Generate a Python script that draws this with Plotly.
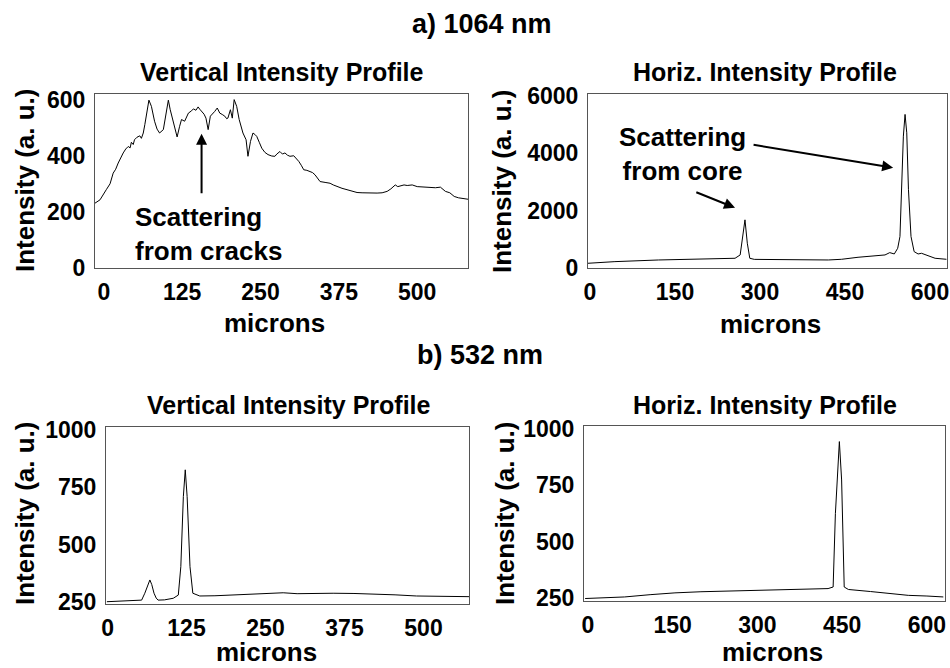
import plotly.graph_objects as go

# ---------------- data ----------------
# a) 1064 nm, vertical intensity profile
v1064_x = [-14, -6, 4, 10, 15, 19, 23, 27, 31, 35, 39, 42, 44, 47, 49, 53, 57.5, 60, 63, 65.5, 68, 72, 76, 81,
           85, 89, 95, 99, 103, 106, 111, 117, 121, 124, 129, 135, 140, 143, 147, 150.5, 153, 156, 160, 163,
           166.5, 170, 174, 177, 181, 185, 189, 193, 196, 198, 202, 205, 208, 212, 216, 219, 222, 227, 230,
           234, 238, 241, 244, 248, 252, 257, 262, 268, 273, 276, 281, 285, 289, 293, 297, 303, 307, 311,
           315, 319, 324, 329, 333, 337, 341, 345, 353, 361, 366, 372, 380, 388, 396, 404, 412, 420, 428,
           436, 444, 452, 458, 465, 469, 473, 479, 484, 492, 500, 510, 521, 529, 537, 541, 545, 552, 559,
           566, 574, 581]
v1064_y = [231, 243, 279, 300, 338, 352, 374, 395, 410, 424, 433, 428, 448, 440, 457, 466, 471, 462, 481, 511,
           552, 598, 576, 523, 495, 481, 493, 552, 598, 564, 516, 467, 505, 529, 523, 552, 560, 567, 562,
           574, 566, 558, 548, 534, 493, 541, 550, 558, 570, 552, 547, 541, 532, 534, 564, 534, 600, 576,
           529, 500, 481, 457, 398, 451, 481, 476, 469, 448, 427, 412, 404, 399, 398, 406, 415, 406, 410,
           402, 398, 400, 391, 380, 366, 350, 348, 344, 340, 332, 320, 308, 305, 302, 296, 290, 284, 279,
           275, 269, 268, 267, 266, 267, 268, 273, 282, 296, 290, 293, 296, 294, 296, 290, 288, 285, 286,
           288, 280, 273, 268, 255, 250, 247, 245]

# a) 1064 nm, horizontal intensity profile
h1064_x = [-3.5, 44, 121, 209, 256, 265, 269, 273.5, 277.6, 282, 290, 356, 420.6, 444, 473, 520.6, 529,
           537, 543, 547, 550, 553, 556, 559, 562, 566.5, 572, 579, 585, 594, 609, 629]
h1064_y = [164, 221, 279, 303, 338, 454, 1094, 1675, 862, 338, 300, 279, 279, 303, 373, 454, 535, 488, 686,
           1094, 2723, 4584, 5340, 4700, 2723, 1094, 570, 488, 512, 454, 338, 303]

# b) 532 nm, vertical intensity profile
v532_x = [-1, 15, 30, 45, 54, 59, 63, 67, 70, 73.6, 77, 80, 90, 104, 112, 116, 120, 123, 126, 130.5, 135,
          146, 170, 199, 230, 255, 278, 300, 330, 357, 390, 420.6, 455, 489, 530, 572]
v532_y = [250, 252, 254, 255, 257, 287, 320, 345, 325, 287, 266, 257, 258, 265, 279, 403, 709, 826, 709,
          403, 287, 275, 276, 279, 283, 286, 289, 285, 287, 287, 286, 284, 280, 275, 274, 272]

# b) 532 nm, horizontal intensity profile
h532_x = [-5, 30, 65, 110, 154, 200, 242, 290, 331, 380, 425, 434, 438, 445, 449, 453.6, 461, 500, 537.5,
          567, 600, 629]
h532_y = [249, 252, 256, 266, 274, 279, 282, 284, 286, 289, 293, 300, 626, 944, 774, 300, 289, 280, 271,
          263, 260, 256]

# axis ticks
v1064_xticks = [0, 125, 250, 375, 500]
v1064_yticks = [0, 200, 400, 600]
h1064_xticks = [0, 150, 300, 450, 600]
h1064_yticks = [0, 2000, 4000, 6000]
v532_xticks = [0, 125, 250, 375, 500]
v532_yticks = [250, 500, 750, 1000]
h532_xticks = [0, 150, 300, 450, 600]
h532_yticks = [250, 500, 750, 1000]

main_titles = ["a) 1064 nm", "b) 532 nm"]
panel_titles = ["Vertical Intensity Profile", "Horiz. Intensity Profile",
                "Vertical Intensity Profile", "Horiz. Intensity Profile"]
x_title = "microns"
y_title = "Intensity (a. u.)"

# ---------------- layout helpers ----------------
W, H = 950, 668
FONT = "Liberation Sans, Arial, sans-serif"


def px_x(p):
    return p / W


def px_y(p):
    return 1 - p / H


panels = [
    # (xaxis, yaxis, x px domain, y px domain, xrange, yrange, xticks, yticks, xs, ys)
    ("x", "y", (95, 468), (94, 268), [-14, 581], [0, 620], v1064_xticks, v1064_yticks, v1064_x, v1064_y),
    ("x2", "y2", (588, 947), (94, 268), [-3.5, 630], [0, 6050], h1064_xticks, h1064_yticks, h1064_x, h1064_y),
    ("x3", "y3", (106, 469), (427, 604), [-2.4, 572], [240, 1013], v532_xticks, v532_yticks, v532_x, v532_y),
    ("x4", "y4", (584, 945), (426, 601), [-7, 632], [238, 1013], h532_xticks, h532_yticks, h532_x, h532_y),
]

fig = go.Figure()
layout = dict(
    width=W, height=H,
    margin=dict(l=0, r=0, t=0, b=0, pad=0),
    paper_bgcolor="white", plot_bgcolor="white",
    showlegend=False,
)

tickfont = dict(family=FONT, size=23, color="black", weight="bold")

for i, (xa, ya, xd, yd, xr, yr, xt, yt, xs, ys) in enumerate(panels):
    fig.add_trace(go.Scatter(x=xs, y=ys, mode="lines", xaxis=xa, yaxis=ya,
                             line=dict(color="black", width=1), hoverinfo="skip"))
    xkey = "xaxis" if xa == "x" else "xaxis" + xa[1:]
    ykey = "yaxis" if ya == "y" else "yaxis" + ya[1:]
    layout[xkey] = dict(domain=[px_x(xd[0]), px_x(xd[1])], range=xr, anchor=ya, automargin=False,
                        tickvals=xt, ticktext=[str(v) for v in xt], showgrid=False, zeroline=False,
                        showline=True, mirror=True, linecolor="#555555", linewidth=1,
                        ticks="", tickfont=tickfont, ticklabelstandoff=3)
    layout[ykey] = dict(domain=[px_y(yd[1]), px_y(yd[0])], range=yr, anchor=xa, automargin=False,
                        tickvals=yt, ticktext=[str(v) for v in yt], showgrid=False, zeroline=False,
                        showline=True, mirror=True, linecolor="#555555", linewidth=1,
                        ticks="", tickfont=tickfont, ticklabelstandoff=4)

fig.update_layout(**layout)

annotations = []


def text_ann(text, x, y, size, angle=0, xanchor="center", align="center"):
    annotations.append(dict(text=text, x=px_x(x), y=px_y(y), xref="paper", yref="paper",
                            showarrow=False, xanchor=xanchor, yanchor="middle", align=align,
                            textangle=angle,
                            font=dict(family=FONT, size=size, color="black", weight="bold")))


# main titles
text_ann(main_titles[0], 482, 24, 27)
text_ann(main_titles[1], 480, 355, 27)
# panel titles
text_ann(panel_titles[0], 282, 72, 25)
text_ann(panel_titles[1], 765, 72, 25)
text_ann(panel_titles[2], 289, 405, 25)
text_ann(panel_titles[3], 765, 405, 25)
# axis titles
for cx in (25, 502):
    text_ann(y_title, cx, 181, 26, angle=-90)
for cx in (25, 505):
    text_ann(y_title, cx, 514, 26, angle=-90)
text_ann(x_title, 274, 323, 26)
text_ann(x_title, 770, 324, 26)
text_ann(x_title, 266, 652, 26)
text_ann(x_title, 772, 652, 26)

# inside-plot labels
text_ann("Scattering<br>from cracks", 133, 234, 26, xanchor="left", align="left")
text_ann("Scattering<br>from core", 682, 154, 26)


def arrow(xref, yref, tail, tip):
    annotations.append(dict(text="", x=tip[0], y=tip[1], ax=tail[0], ay=tail[1],
                            xref=xref, yref=yref, axref=xref, ayref=yref,
                            showarrow=True, arrowhead=2, arrowsize=1.1, arrowwidth=2,
                            arrowcolor="black"))


arrow("x", "y", (156, 261), (156, 478))
arrow("x2", "y2", (185, 2653), (256, 2094))
arrow("x2", "y2", (286, 4293), (535, 3490))

fig.update_layout(annotations=annotations)

# remove the default 8px page margin so the 950x668 figure fills the window exactly
fig.write_html("out.html",
               config={"displayModeBar": False},
               post_script="document.body.style.margin='0px';document.body.style.overflow='hidden';")
